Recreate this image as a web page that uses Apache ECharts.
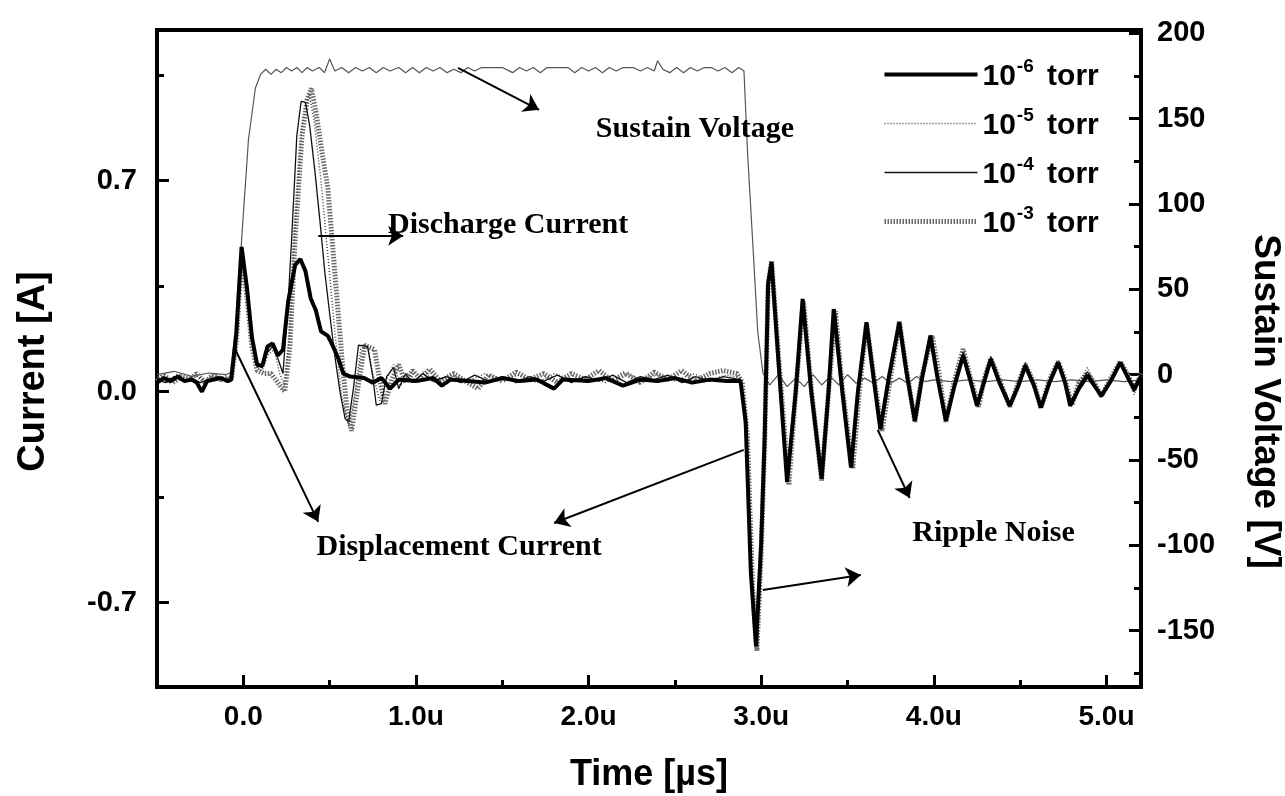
<!DOCTYPE html>
<html>
<head>
<meta charset="utf-8">
<title>Discharge current vs time</title>
<script src="https://cdn.jsdelivr.net/npm/echarts@6/dist/echarts.min.js"></script>
<style>
  html, body { margin: 0; padding: 0; background: #fff; }
  #chart { width: 1285px; height: 796px; }
</style>
</head>
<body>
<div id="chart"></div>
<script>
// pressure labels, shown in the legend as 10^x torr
const pressures = ['10^-6 torr', '10^-5 torr', '10^-4 torr', '10^-3 torr'];

// current traces [time us, current A]
const torr6 = [
  [-0.50,0.030],[-0.46,0.045],[-0.42,0.035],[-0.38,0.050],[-0.34,0.035],[-0.30,0.040],[-0.27,0.030],[-0.24,0.000],
  [-0.21,0.035],[-0.17,0.040],[-0.13,0.045],[-0.09,0.035],[-0.07,0.040],[-0.04,0.200],[-0.01,0.480],[0.02,0.350],
  [0.05,0.180],[0.08,0.090],[0.11,0.085],[0.14,0.150],[0.17,0.160],[0.20,0.120],[0.23,0.140],[0.26,0.300],
  [0.30,0.420],[0.33,0.440],[0.36,0.400],[0.39,0.310],[0.42,0.270],[0.45,0.200],[0.49,0.185],[0.52,0.150],
  [0.55,0.110],[0.58,0.060],[0.62,0.050],[0.70,0.045],[0.75,0.030],[0.80,0.045],[0.85,0.010],[0.90,0.040],
  [1.00,0.035],[1.10,0.045],[1.15,0.020],[1.20,0.040],[1.30,0.035],[1.40,0.030],[1.50,0.045],[1.60,0.035],
  [1.70,0.040],[1.80,0.010],[1.85,0.040],[2.00,0.035],[2.10,0.045],[2.20,0.020],[2.30,0.040],[2.40,0.035],
  [2.50,0.045],[2.60,0.030],[2.70,0.040],[2.80,0.035],[2.88,0.035],[2.91,-0.100],[2.94,-0.600],[2.97,-0.845],
  [3.00,-0.500],[3.02,-0.150],[3.04,0.360],[3.06,0.430],[3.10,0.100],[3.15,-0.300],[3.20,0.000],[3.24,0.308],
  [3.29,0.000],[3.35,-0.290],[3.39,0.000],[3.42,0.274],[3.47,0.000],[3.52,-0.252],[3.56,0.000],[3.61,0.230],
  [3.65,0.050],[3.69,-0.125],[3.74,0.050],[3.80,0.230],[3.84,0.070],[3.89,-0.097],[3.93,0.040],[3.98,0.186],
  [4.02,0.050],[4.07,-0.097],[4.12,0.020],[4.17,0.120],[4.21,0.040],[4.25,-0.047],[4.29,0.030],[4.33,0.108],
  [4.38,0.030],[4.44,-0.047],[4.49,0.020],[4.53,0.086],[4.58,0.020],[4.62,-0.053],[4.67,0.030],[4.72,0.097],
  [4.76,0.030],[4.79,-0.047],[4.84,0.010],[4.89,0.053],[4.93,0.020],[4.97,-0.014],[5.03,0.040],[5.08,0.097],
  [5.13,0.040],[5.16,0.008],[5.20,0.050]
];

const torr5 = [
  [-0.50,0.050],[-0.44,0.030],[-0.38,0.060],[-0.33,0.040],[-0.28,0.055],[-0.22,0.035],[-0.16,0.060],[-0.11,0.040],
  [-0.07,0.050],[-0.04,0.190],[-0.01,0.470],[0.02,0.340],[0.05,0.170],[0.08,0.080],[0.11,0.070],[0.14,0.120],
  [0.18,0.140],[0.21,0.060],[0.24,0.020],[0.27,0.200],[0.30,0.550],[0.34,0.880],[0.38,0.990],[0.41,0.900],
  [0.45,0.700],[0.49,0.450],[0.53,0.200],[0.57,-0.020],[0.61,-0.115],[0.64,-0.030],[0.68,0.140],[0.72,0.150],
  [0.75,0.060],[0.79,-0.030],[0.83,0.040],[0.87,0.090],[0.91,0.020],[0.95,0.060],[1.00,0.040],[1.05,0.070],
  [1.10,0.030],[1.20,0.055],[1.30,0.035],[1.40,0.060],[1.50,0.040],[1.60,0.055],[1.70,0.030],[1.80,0.060],
  [1.90,0.040],[2.00,0.050],[2.10,0.030],[2.20,0.065],[2.30,0.040],[2.40,0.055],[2.50,0.035],[2.60,0.060],
  [2.70,0.040],[2.80,0.055],[2.88,0.045],[2.91,-0.080],[2.94,-0.580],[2.97,-0.830],[3.00,-0.520],[3.02,-0.170],
  [3.04,0.340],[3.06,0.420],[3.10,0.120],[3.15,-0.290],[3.20,0.010],[3.24,0.300],[3.29,0.020],[3.35,-0.285],
  [3.39,0.010],[3.43,0.265],[3.47,0.020],[3.52,-0.240],[3.56,0.010],[3.61,0.225],[3.65,0.060],[3.69,-0.115],
  [3.74,0.060],[3.80,0.220],[3.84,0.080],[3.89,-0.090],[3.93,0.050],[3.98,0.180],[4.02,0.060],[4.07,-0.090],
  [4.12,0.040],[4.17,0.140],[4.21,0.050],[4.25,-0.040],[4.29,0.040],[4.33,0.120],[4.38,0.040],[4.44,-0.040],
  [4.49,0.030],[4.53,0.100],[4.58,0.030],[4.62,-0.045],[4.67,0.040],[4.72,0.090],[4.76,0.040],[4.80,-0.030],
  [4.84,0.030],[4.89,0.080],[4.93,0.030],[4.97,-0.020],[5.03,0.050],[5.08,0.090],[5.13,0.050],[5.16,-0.010],
  [5.20,0.060]
];

const torr4 = [
  [-0.50,0.040],[-0.45,0.030],[-0.40,0.050],[-0.35,0.035],[-0.30,0.045],[-0.25,0.030],[-0.20,0.040],[-0.15,0.050],
  [-0.10,0.035],[-0.07,0.040],[-0.04,0.180],[-0.01,0.460],[0.02,0.330],[0.05,0.170],[0.08,0.090],[0.11,0.080],
  [0.14,0.130],[0.17,0.150],[0.20,0.110],[0.23,0.060],[0.26,0.300],[0.28,0.507],[0.31,0.850],[0.335,0.963],
  [0.36,0.960],[0.385,0.880],[0.415,0.730],[0.445,0.560],[0.472,0.397],[0.50,0.260],[0.53,0.119],[0.56,0.000],
  [0.59,-0.090],[0.61,-0.100],[0.64,0.020],[0.667,0.154],[0.72,0.150],[0.75,0.050],[0.77,-0.045],[0.80,-0.040],
  [0.83,0.050],[0.87,0.080],[0.90,0.010],[0.94,0.060],[0.98,0.030],[1.04,0.060],[1.10,0.035],[1.18,0.050],
  [1.26,0.030],[1.34,0.055],[1.42,0.035],[1.50,0.050],[1.58,0.030],[1.66,0.050],[1.74,0.035],[1.82,0.055],
  [1.90,0.030],[1.98,0.050],[2.06,0.035],[2.14,0.055],[2.22,0.030],[2.30,0.050],[2.38,0.040],[2.46,0.055],
  [2.54,0.030],[2.62,0.050],[2.70,0.035],[2.78,0.050],[2.88,0.040],[2.91,-0.090],[2.94,-0.590],[2.97,-0.840],
  [3.00,-0.510],[3.02,-0.160],[3.04,0.350],[3.06,0.425],[3.10,0.110],[3.15,-0.295],[3.20,0.005],[3.24,0.305],
  [3.29,0.010],[3.35,-0.288],[3.39,0.005],[3.42,0.270],[3.47,0.010],[3.52,-0.248],[3.56,0.005],[3.61,0.228],
  [3.65,0.055],[3.69,-0.120],[3.74,0.055],[3.80,0.225],[3.84,0.075],[3.89,-0.094],[3.93,0.045],[3.98,0.183],
  [4.02,0.055],[4.07,-0.094],[4.12,0.030],[4.17,0.130],[4.21,0.045],[4.25,-0.044],[4.29,0.035],[4.33,0.114],
  [4.38,0.035],[4.44,-0.044],[4.49,0.025],[4.53,0.093],[4.58,0.025],[4.62,-0.049],[4.67,0.035],[4.72,0.094],
  [4.76,0.035],[4.80,-0.040],[4.84,0.020],[4.89,0.066],[4.93,0.025],[4.97,-0.017],[5.03,0.045],[5.08,0.094],
  [5.13,0.045],[5.16,0.000],[5.20,0.055]
];

const torr3 = [
  [-0.50,0.035],[-0.46,0.055],[-0.41,0.030],[-0.36,0.050],[-0.31,0.040],[-0.27,0.060],[-0.22,0.030],[-0.18,0.055],
  [-0.13,0.040],[-0.09,0.050],[-0.07,0.040],[-0.04,0.170],[-0.01,0.450],[0.02,0.320],[0.05,0.150],[0.08,0.070],
  [0.12,0.060],[0.16,0.060],[0.20,0.030],[0.24,0.000],[0.27,0.150],[0.30,0.507],[0.34,0.850],[0.37,0.970],
  [0.395,1.006],[0.42,0.930],[0.46,0.780],[0.49,0.673],[0.53,0.397],[0.57,0.119],[0.60,-0.060],[0.627,-0.130],
  [0.66,0.000],[0.703,0.154],[0.76,0.140],[0.79,0.040],[0.82,-0.040],[0.86,0.040],[0.90,0.090],[0.94,0.030],
  [0.98,0.070],[1.03,0.040],[1.08,0.075],[1.14,0.035],[1.22,0.060],[1.30,0.030],[1.36,0.010],[1.42,0.055],
  [1.50,0.035],[1.58,0.065],[1.66,0.040],[1.74,0.060],[1.82,0.030],[1.90,0.060],[1.98,0.040],[2.06,0.070],
  [2.14,0.035],[2.22,0.060],[2.30,0.030],[2.38,0.065],[2.46,0.040],[2.54,0.070],[2.62,0.035],[2.70,0.060],
  [2.78,0.070],[2.86,0.060],[2.89,0.030],[2.92,-0.150],[2.95,-0.650],[2.975,-0.860],[3.00,-0.530],[3.02,-0.180],
  [3.04,0.350],[3.06,0.435],[3.10,0.120],[3.16,-0.310],[3.20,0.000],[3.245,0.300],[3.29,0.010],[3.35,-0.295],
  [3.39,0.000],[3.43,0.268],[3.47,0.010],[3.53,-0.255],[3.57,0.010],[3.61,0.225],[3.65,0.060],[3.70,-0.130],
  [3.75,0.050],[3.80,0.232],[3.84,0.080],[3.89,-0.100],[3.93,0.050],[3.99,0.186],[4.03,0.060],[4.07,-0.100],
  [4.12,0.040],[4.17,0.141],[4.21,0.050],[4.26,-0.050],[4.29,0.040],[4.33,0.110],[4.38,0.040],[4.44,-0.050],
  [4.49,0.030],[4.53,0.090],[4.58,0.030],[4.62,-0.055],[4.67,0.040],[4.72,0.100],[4.76,0.040],[4.80,-0.045],
  [4.84,0.030],[4.89,0.060],[4.93,0.030],[4.97,-0.015],[5.03,0.050],[5.08,0.100],[5.13,0.050],[5.16,0.005],
  [5.20,0.060]
];

// sustain voltage [time us, V] on the right axis
const sustainVoltage = [
  [-0.50,0],[-0.40,2],[-0.30,-1],[-0.20,1],[-0.10,0],[-0.06,2],[-0.04,15],[-0.01,79],[0.03,138],[0.07,168],
  [0.10,176],[0.13,179],[0.16,176],[0.19,179],[0.22,177],[0.25,180],[0.28,178],[0.31,180],[0.34,177],[0.37,180],
  [0.40,178],[0.44,180],[0.47,177],[0.50,185],[0.53,178],[0.57,180],[0.61,177],[0.65,180],[0.69,178],[0.73,180],
  [0.77,177],[0.81,180],[0.85,178],[0.90,180],[0.94,177],[0.98,180],[1.02,177],[1.06,180],[1.10,178],[1.14,180],
  [1.18,177],[1.22,179],[1.26,177],[1.30,180],[1.34,178],[1.38,180],[1.44,180],[1.50,180],[1.56,177],[1.60,180],
  [1.64,178],[1.68,180],[1.72,177],[1.76,180],[1.82,180],[1.88,180],[1.92,177],[1.96,180],[2.00,178],[2.04,180],
  [2.08,177],[2.12,180],[2.16,178],[2.20,180],[2.26,180],[2.30,178],[2.34,180],[2.38,178],[2.40,184],[2.43,179],
  [2.47,177],[2.51,180],[2.55,177],[2.59,180],[2.63,178],[2.67,180],[2.71,180],[2.75,178],[2.79,180],[2.83,177],
  [2.87,180],[2.90,178],[2.922,128],[2.95,79],[2.98,25],[3.01,1],[3.05,-6],[3.10,0],[3.15,-7],[3.20,-2],
  [3.25,-7],[3.30,0],[3.35,-6],[3.40,-1],[3.45,-6],[3.50,0],[3.55,-5],[3.60,-2],[3.65,-5],[3.70,-1],
  [3.75,-5],[3.80,-2],[3.85,-5],[3.90,-1],[3.95,-4],[4.00,-3],[4.10,-4],[4.20,-3],[4.30,-4],[4.40,-3],
  [4.50,-4],[4.60,-3],[4.70,-4],[4.80,-3],[4.90,-4],[5.00,-3],[5.10,-4],[5.20,-3]
];

// tick values
const timeTicks = [0, 1, 2, 3, 4, 5];
const timeMinor = [0.5, 1.5, 2.5, 3.5, 4.5];
const currentTicks = [-0.7, 0, 0.7];
const currentMinor = [-0.35, 0.35, 1.05];
const voltTicks = [-150, -100, -50, 0, 50, 100, 150, 200];
const voltMinor = [-175, -125, -75, -25, 25, 75, 125, 175];

// annotation arrows (from curve to text) and texts, in [time, current] coordinates
const arrows = [
  [[1.244, 1.074], [1.713, 0.935]],
  [[0.434, 0.517], [0.926, 0.517]],
  [[-0.046, 0.139], [0.434, -0.432]],
  [[2.899, -0.193], [1.80, -0.436]],
  [[3.009, -0.658], [3.577, -0.608]],
  [[3.675, -0.127], [3.86, -0.353]]
];
const notes = [
  ['Sustain Voltage', 2.616, 0.871],
  ['Discharge Current', 1.534, 0.553],
  ['Displacement Current', 1.25, -0.515],
  ['Ripple Noise', 4.346, -0.469]
];

const SANS = 'Liberation Sans, Arial, sans-serif';
const SERIF = 'Liberation Serif, Times New Roman, serif';

const chart = echarts.init(document.getElementById('chart'));

function legendLabel(name) {
  const m = name.match(/^10\^(\S+) torr$/);
  return '{n|10}{s|' + m[1] + '}{n| torr}';
}

const xMin = -0.5, xMax = 5.2;
const aMin = -0.98, aMax = 1.2;
const vMin = -183, vMax = 202;

const tickLine = { color: '#000', width: 3 };
const hidden = { show: false };

// legend line widths follow the traces
const legendWidths = [4, 1.5, 1.3, 5];

chart.setOption({
  animation: false,
  backgroundColor: '#fff',
  grid: {
    left: 157, right: 144, top: 30, bottom: 109,
    outerBoundsMode: 'none',
    show: true, borderColor: '#000', borderWidth: 4
  },
  legend: {
    orient: 'vertical',
    left: 877,
    top: 52,
    itemWidth: 93,
    itemHeight: 14,
    itemGap: 14,
    data: pressures.map((p, i) => ({ name: p, lineStyle: { width: legendWidths[i] } })),
    formatter: legendLabel,
    itemStyle: { opacity: 0 },
    textStyle: {
      rich: {
        n: { fontFamily: SANS, fontWeight: 'bold', fontSize: 30, color: '#000', lineHeight: 35, verticalAlign: 'bottom' },
        s: { fontFamily: SANS, fontWeight: 'bold', fontSize: 19, color: '#000', lineHeight: 35, verticalAlign: 'top', padding: [0, 5, 0, 1] }
      }
    },
    selectedMode: false
  },
  xAxis: [
    {
      type: 'value', min: xMin, max: xMax,
      name: 'Time [\u00b5s]', nameLocation: 'middle', nameGap: 70,
      nameTextStyle: { fontFamily: SANS, fontWeight: 'bold', fontSize: 36, color: '#000' },
      axisLine: { show: true, onZero: false, lineStyle: { color: '#000', width: 4 } },
      axisTick: { show: true, inside: true, length: 12, customValues: timeTicks, lineStyle: tickLine },
      axisLabel: {
        customValues: timeTicks, margin: 16,
        fontFamily: SANS, fontWeight: 'bold', fontSize: 28, color: '#000',
        formatter: v => (v === 0 ? '0.0' : v.toFixed(1) + 'u')
      },
      splitLine: hidden
    },
    {
      type: 'value', min: xMin, max: xMax, position: 'bottom',
      axisLine: { show: false, onZero: false },
      axisTick: { show: true, inside: true, length: 7, customValues: timeMinor, lineStyle: tickLine },
      axisLabel: hidden,
      splitLine: hidden
    }
  ],
  yAxis: [
    {
      type: 'value', min: aMin, max: aMax, position: 'left',
      name: 'Current [A]', nameLocation: 'middle', nameGap: 104, nameRotate: 90,
      nameTextStyle: { fontFamily: SANS, fontWeight: 'bold', fontSize: 38, color: '#000', padding: [0, 26, 0, 0] },
      axisLine: { show: true, onZero: false, lineStyle: { color: '#000', width: 4 } },
      axisTick: { show: true, inside: true, length: 12, customValues: currentTicks, lineStyle: tickLine },
      axisLabel: {
        customValues: currentTicks, margin: 20,
        fontFamily: SANS, fontWeight: 'bold', fontSize: 29, color: '#000',
        formatter: v => v.toFixed(1)
      },
      splitLine: hidden
    },
    {
      type: 'value', min: vMin, max: vMax, position: 'right',
      name: 'Sustain Voltage [V]', nameLocation: 'middle', nameGap: 106, nameRotate: -90,
      nameTextStyle: { fontFamily: SANS, fontWeight: 'bold', fontSize: 37, color: '#000', padding: [0, 0, 0, 86] },
      axisLine: { show: true, onZero: false, lineStyle: { color: '#000', width: 4 } },
      axisTick: { show: true, inside: true, length: 12, customValues: voltTicks, lineStyle: tickLine },
      axisLabel: {
        customValues: voltTicks, margin: 16,
        fontFamily: SANS, fontWeight: 'bold', fontSize: 29, color: '#000'
      },
      splitLine: hidden
    },
    {
      type: 'value', min: aMin, max: aMax, position: 'left',
      axisLine: { show: false, onZero: false },
      axisTick: { show: true, inside: true, length: 7, customValues: currentMinor, lineStyle: tickLine },
      axisLabel: hidden,
      splitLine: hidden
    },
    {
      type: 'value', min: vMin, max: vMax, position: 'right',
      axisLine: { show: false, onZero: false },
      axisTick: { show: true, inside: true, length: 7, customValues: voltMinor, lineStyle: tickLine },
      axisLabel: hidden,
      splitLine: hidden
    }
  ],
  series: [
    {
      name: 'Sustain Voltage', type: 'line', yAxisIndex: 1, symbol: 'none',
      data: sustainVoltage,
      lineStyle: { color: '#555', width: 1.2 },
      silent: true, z: 2
    },
    {
      name: pressures[3], type: 'line', yAxisIndex: 0, symbol: 'none',
      data: torr3,
      lineStyle: { color: '#6a6a6a', width: 5, type: [1.5, 1.5] },
      itemStyle: { color: '#6a6a6a' },
      silent: true, z: 3
    },
    {
      name: pressures[1], type: 'line', yAxisIndex: 0, symbol: 'none',
      data: torr5,
      lineStyle: { color: '#444', width: 1.5, type: [1, 2] },
      itemStyle: { color: '#444' },
      silent: true, z: 4
    },
    {
      name: pressures[2], type: 'line', yAxisIndex: 0, symbol: 'none',
      data: torr4,
      lineStyle: { color: '#111', width: 1.3 },
      itemStyle: { color: '#111' },
      silent: true, z: 5
    },
    {
      name: pressures[0], type: 'line', yAxisIndex: 0, symbol: 'none',
      data: torr6,
      lineStyle: { color: '#000', width: 4 },
      itemStyle: { color: '#000' },
      silent: true, z: 6,
      markLine: {
        silent: true,
        symbol: ['none', 'arrow'],
        symbolSize: 15,
        label: { show: false },
        lineStyle: { color: '#000', width: 2, type: 'solid' },
        data: arrows.map(a => [{ coord: a[0] }, { coord: a[1] }])
      },
      markPoint: {
        silent: true,
        symbol: 'circle',
        symbolSize: 0,
        label: {
          show: true, position: 'inside', formatter: '{b}',
          fontFamily: SERIF, fontWeight: 'bold', fontSize: 30, color: '#000'
        },
        data: notes.map(n => ({ name: n[0], coord: [n[1], n[2]] }))
      }
    }
  ]
});

window.addEventListener('resize', () => chart.resize());
</script>
</body>
</html>
